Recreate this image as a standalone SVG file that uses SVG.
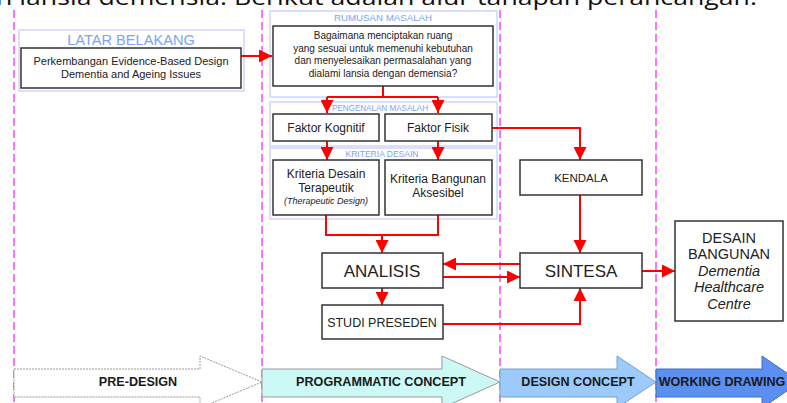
<svg xmlns="http://www.w3.org/2000/svg" width="787" height="403" viewBox="0 0 787 403">
  <style>
    .lane { stroke: #ff44ff; stroke-width: 1.5; stroke-dasharray: 8 4; fill: none; }
    .panel { fill: #ffffff; stroke: #d0d4ff; stroke-width: 1.5; }
    .panel-label { font-family: "Liberation Sans", Arial, sans-serif; fill: #7aa4f4; text-anchor: middle; }
    .box { fill: #ffffff; stroke: #333333; stroke-width: 1.5; }
    .txt { font-family: "Liberation Sans", Arial, sans-serif; fill: #222222; text-anchor: middle; }
    .link { stroke: #ff0000; stroke-width: 2; fill: none; }
    .phase-txt { font-family: "Liberation Sans", Arial, sans-serif; font-weight: bold; font-size: 12.6px; fill: #1a1a1a; text-anchor: middle; }
  </style>
  <defs>
    <marker id="arrow" markerUnits="userSpaceOnUse" markerWidth="13" markerHeight="13" refX="13" refY="6.5" orient="auto">
      <path d="M0,0 L13,6.5 L0,13 z" fill="#ff0000"/>
    </marker>
  </defs>

  <rect width="787" height="403" fill="#ffffff"/>

  <!-- heading line (top edge of page) -->
  <text x="-4" y="5" font-family="'Open Sans', 'Noto Sans', sans-serif" font-size="22" fill="#111111" textLength="761" lengthAdjust="spacingAndGlyphs">n lansia demensia. Berikut adalah alur  tahapan perancangan.</text>

  <!-- phase separators -->
  <g id="lanes">
    <line class="lane" x1="14" y1="10" x2="14" y2="403"/>
    <line class="lane" x1="262" y1="10" x2="262" y2="403"/>
    <line class="lane" x1="500" y1="10" x2="500" y2="403"/>
    <line class="lane" x1="656" y1="10" x2="656" y2="403"/>
  </g>

  <!-- section panels -->
  <g id="panel-latar">
    <rect class="panel" x="19" y="30" width="225" height="61"/>
    <text class="panel-label" x="131" y="45" font-size="14.6">LATAR BELAKANG</text>
  </g>
  <g id="panel-rumusan">
    <rect class="panel" x="270" y="11" width="227" height="86"/>
    <text class="panel-label" x="383" y="21" font-size="8.5" textLength="98" lengthAdjust="spacingAndGlyphs">RUMUSAN MASALAH</text>
  </g>
  <g id="panel-pengenalan">
    <rect class="panel" x="270" y="102" width="227" height="44"/>
    <text class="panel-label" x="380" y="111" font-size="8.5" textLength="96" lengthAdjust="spacingAndGlyphs">PENGENALAN MASALAH</text>
  </g>
  <g id="panel-kriteria">
    <rect class="panel" x="270" y="148" width="227" height="71"/>
    <text class="panel-label" x="382" y="157" font-size="8.5" textLength="73" lengthAdjust="spacingAndGlyphs">KRITERIA DESAIN</text>
  </g>

  <!-- connectors -->
  <g id="connectors">
    <line class="link" x1="241" y1="56" x2="272" y2="56" marker-end="url(#arrow)"/>
    <line class="link" x1="383" y1="86" x2="383" y2="97"/>
    <polyline class="link" points="327,97 438,97"/>
    <line class="link" x1="327" y1="97" x2="327" y2="113" marker-end="url(#arrow)"/>
    <line class="link" x1="438" y1="97" x2="438" y2="113" marker-end="url(#arrow)"/>
    <line class="link" x1="327" y1="141" x2="327" y2="160" marker-end="url(#arrow)"/>
    <line class="link" x1="438" y1="141" x2="438" y2="160" marker-end="url(#arrow)"/>
    <polyline class="link" points="492,128 580,128 580,160" marker-end="url(#arrow)"/>
    <polyline class="link" points="326,215 326,235 438,235 438,215"/>
    <line class="link" x1="382" y1="235" x2="382" y2="253" marker-end="url(#arrow)"/>
    <line class="link" x1="580" y1="195" x2="580" y2="253" marker-end="url(#arrow)"/>
    <line class="link" x1="520" y1="264" x2="443" y2="264" marker-end="url(#arrow)"/>
    <line class="link" x1="443" y1="277" x2="520" y2="277" marker-end="url(#arrow)"/>
    <line class="link" x1="382" y1="288" x2="382" y2="305" marker-end="url(#arrow)"/>
    <polyline class="link" points="443,324 580,324 580,288" marker-end="url(#arrow)"/>
    <line class="link" x1="642" y1="271" x2="675" y2="271" marker-end="url(#arrow)"/>
  </g>

  <!-- nodes -->
  <g id="latar-belakang">
    <rect class="box" x="21" y="48" width="220" height="40"/>
    <text class="txt" x="131" y="65" font-size="11">Perkembangan Evidence-Based Design</text>
    <text class="txt" x="131" y="78" font-size="11">Dementia and Ageing Issues</text>
  </g>
  <g id="rumusan-masalah">
    <rect class="box" x="273" y="26" width="220" height="60"/>
    <text class="txt" x="383" y="39" font-size="10">Bagaimana menciptakan ruang</text>
    <text class="txt" x="383" y="52" font-size="10">yang sesuai untuk memenuhi kebutuhan</text>
    <text class="txt" x="383" y="64" font-size="10">dan menyelesaikan permasalahan yang</text>
    <text class="txt" x="383" y="77" font-size="10">dialami lansia dengan demensia?</text>
  </g>
  <g id="faktor-kognitif">
    <rect class="box" x="273" y="114" width="106" height="27"/>
    <text class="txt" x="326" y="132" font-size="12">Faktor Kognitif</text>
  </g>
  <g id="faktor-fisik">
    <rect class="box" x="385" y="114" width="107" height="27"/>
    <text class="txt" x="438" y="132" font-size="12">Faktor Fisik</text>
  </g>
  <g id="kriteria-terapeutik">
    <rect class="box" x="273" y="160" width="106" height="55"/>
    <text class="txt" x="326" y="178" font-size="12">Kriteria Desain</text>
    <text class="txt" x="326" y="192" font-size="12">Terapeutik</text>
    <text class="txt" x="326" y="204" font-size="9" font-style="italic">(Therapeutic Design)</text>
  </g>
  <g id="kriteria-aksesibel">
    <rect class="box" x="385" y="160" width="107" height="55"/>
    <text class="txt" x="438" y="183" font-size="12">Kriteria Bangunan</text>
    <text class="txt" x="438" y="197" font-size="12">Aksesibel</text>
  </g>
  <g id="kendala">
    <rect class="box" x="520" y="160" width="122" height="35"/>
    <text class="txt" x="581" y="182" font-size="11.5">KENDALA</text>
  </g>
  <g id="analisis">
    <rect class="box" x="322" y="253" width="121" height="35"/>
    <text class="txt" x="382" y="277" font-size="17">ANALISIS</text>
  </g>
  <g id="sintesa">
    <rect class="box" x="520" y="253" width="122" height="35"/>
    <text class="txt" x="581" y="277" font-size="17">SINTESA</text>
  </g>
  <g id="studi-preseden">
    <rect class="box" x="322" y="305" width="121" height="34"/>
    <text class="txt" x="382" y="327" font-size="12.5">STUDI PRESEDEN</text>
  </g>
  <g id="desain-bangunan">
    <rect class="box" x="675" y="221" width="108" height="100"/>
    <text class="txt" x="729" y="243" font-size="14.5">DESAIN</text>
    <text class="txt" x="729" y="259" font-size="14.5">BANGUNAN</text>
    <text class="txt" x="729" y="276" font-size="14.5" font-style="italic">Dementia</text>
    <text class="txt" x="729" y="292" font-size="14.5" font-style="italic">Healthcare</text>
    <text class="txt" x="729" y="309" font-size="14.5" font-style="italic">Centre</text>
  </g>

  <!-- phase arrows -->
  <g id="phase-pre-design">
    <path d="M14,369 L200,369 L200,356 L262,382 L200,408 L200,397 L14,397 Z" fill="#ffffff" stroke="#999999" stroke-width="1" stroke-dasharray="2 1"/>
    <text class="phase-txt" x="138" y="386">PRE-DESIGN</text>
  </g>
  <g id="phase-programmatic">
    <path d="M262,369 L442,369 L442,356 L500,382 L442,408 L442,397 L262,397 Z" fill="#ccf8f6" stroke="#999999" stroke-width="1"/>
    <text class="phase-txt" x="381" y="386">PROGRAMMATIC CONCEPT</text>
  </g>
  <g id="phase-design-concept">
    <path d="M500,369 L617,369 L617,356 L656,382 L617,408 L617,397 L500,397 Z" fill="#9ccbfb" stroke="#7a9fcf" stroke-width="1"/>
    <text class="phase-txt" x="578" y="386">DESIGN CONCEPT</text>
  </g>
  <g id="phase-working-drawing">
    <path d="M656,369 L762,369 L762,356 L800,382 L762,408 L762,397 L656,397 Z" fill="#5b8ff0" stroke="#3f6fc8" stroke-width="1"/>
    <text class="phase-txt" x="722" y="386">WORKING DRAWING</text>
  </g>
</svg>
